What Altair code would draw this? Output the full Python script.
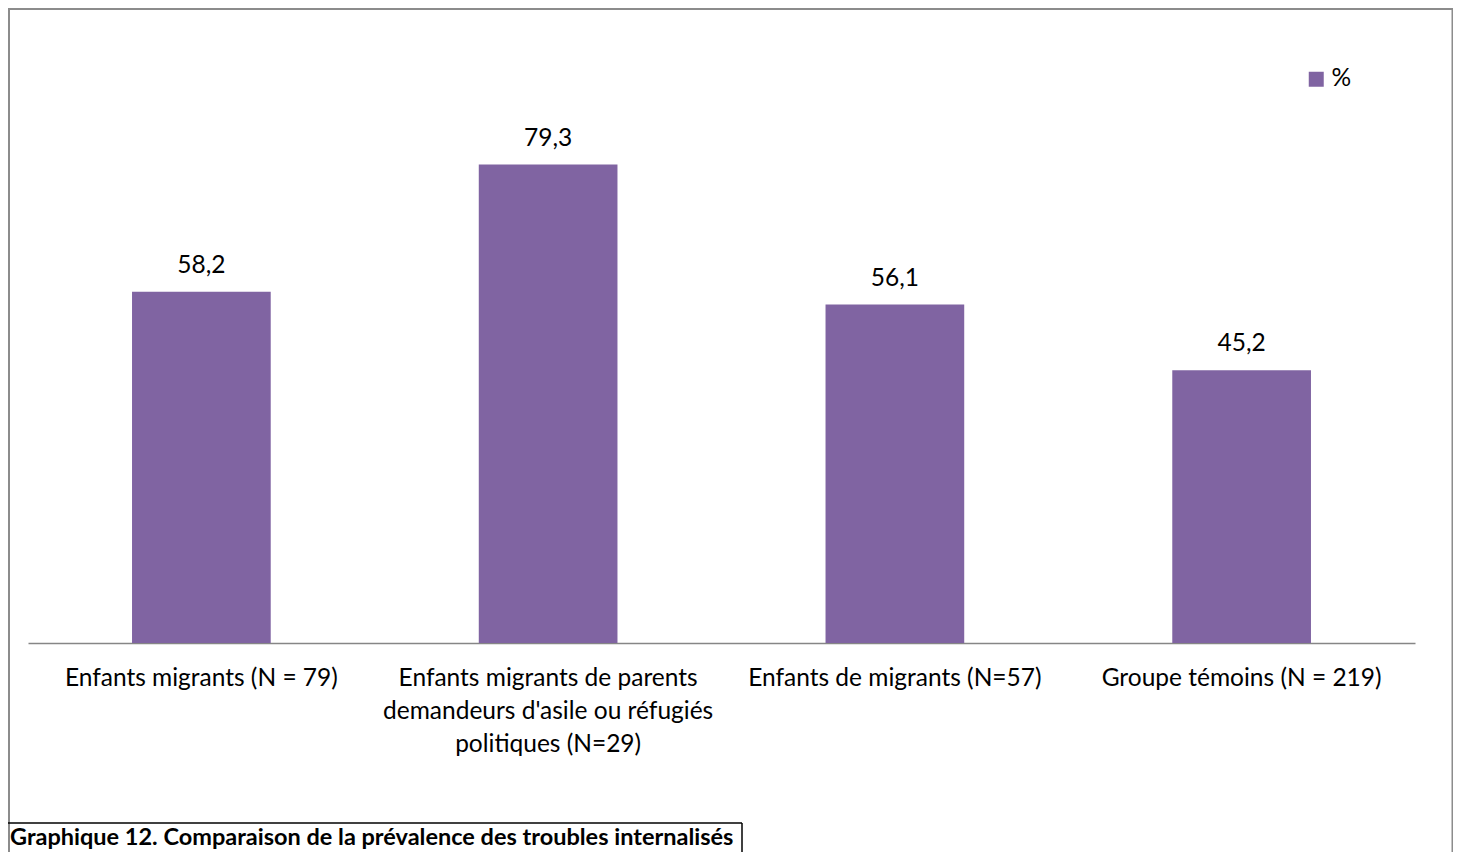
import altair as alt
import pandas as pd

# ---- data ----
categories = [
    "Enfants migrants (N = 79)",
    "Enfants migrants de parents|demandeurs d'asile ou réfugiés|politiques (N=29)",
    "Enfants de migrants (N=57)",
    "Groupe témoins (N = 219)",
]
values = [58.2, 79.3, 56.1, 45.2]
value_labels = ["58,2", "79,3", "56,1", "45,2"]
series_name = "%"
caption = "Graphique 12. Comparaison de la prévalence des troubles internalisés"

FONT = "Lato"
BAR = "#8064A2"
FS = 24.5

df = pd.DataFrame({
    "cat": categories,
    "val": values,
    "lab": value_labels,
    "serie": [series_name] * len(categories),
})

X = alt.X(
    "cat:N",
    sort=categories,
    scale=alt.Scale(paddingInner=0.6, paddingOuter=0.3),
    axis=alt.Axis(
        title=None,
        labelAngle=0,
        ticks=False,
        domainColor="#868686",
        domainWidth=1.5,
        labelFont=FONT,
        labelFontSize=FS,
        labelColor="#000000",
        labelPadding=23,
        labelLineHeight=33,
        labelLimit=0,
        labelOverlap=False,
        labelExpr="split(datum.label, '|')",
    ),
)
Y = alt.Y("val:Q", scale=alt.Scale(domain=[0, 90], nice=False), axis=None)

base = alt.Chart(df)

bars = base.mark_bar().encode(
    x=X,
    y=Y,
    color=alt.Color(
        "serie:N",
        scale=alt.Scale(range=[BAR]),
        legend=alt.Legend(
            title=None,
            orient="none",
            legendX=1276,
            legendY=-33,
            padding=0,
            symbolType="square",
            symbolSize=225,
            symbolStrokeWidth=0,
            labelFont=FONT,
            labelFontSize=FS,
            labelColor="#000000",
            labelOffset=3,
        ),
    ),
)

texts = base.mark_text(
    dy=-19, baseline="alphabetic", font=FONT, fontSize=FS, color="#000000"
).encode(x=X, y=Y, text="lab:N")

one = alt.Chart(pd.DataFrame({"c": [caption]}))

border = one.mark_rect(fill="transparent", stroke="#8c8c8c", strokeWidth=2).encode(
    x=alt.value(-19), x2=alt.value(1424.5), y=alt.value(-91), y2=alt.value(800)
)

cap_top = one.mark_rule(color="#000000", strokeWidth=1.5).encode(
    x=alt.value(-20), x2=alt.value(714), y=alt.value(723)
)
cap_right = one.mark_rule(color="#000000", strokeWidth=1.5).encode(
    x=alt.value(714), y=alt.value(723), y2=alt.value(800)
)
cap_text = one.mark_text(
    align="left", baseline="alphabetic", font=FONT, fontSize=23.5,
    fontWeight="bold", color="#000000"
).encode(x=alt.value(-18), y=alt.value(745), text="c:N")

chart = alt.layer(border, bars, texts, cap_top, cap_right, cap_text).properties(
    width=1387,
    height=543,
    background="white",
    padding={"left": 20, "top": 92, "right": 38, "bottom": 209},
    autosize=alt.AutoSizeParams(type="none"),
).configure_view(strokeOpacity=0, strokeWidth=0)

chart.save("out.html", embed_options={"renderer": "svg", "actions": False})
